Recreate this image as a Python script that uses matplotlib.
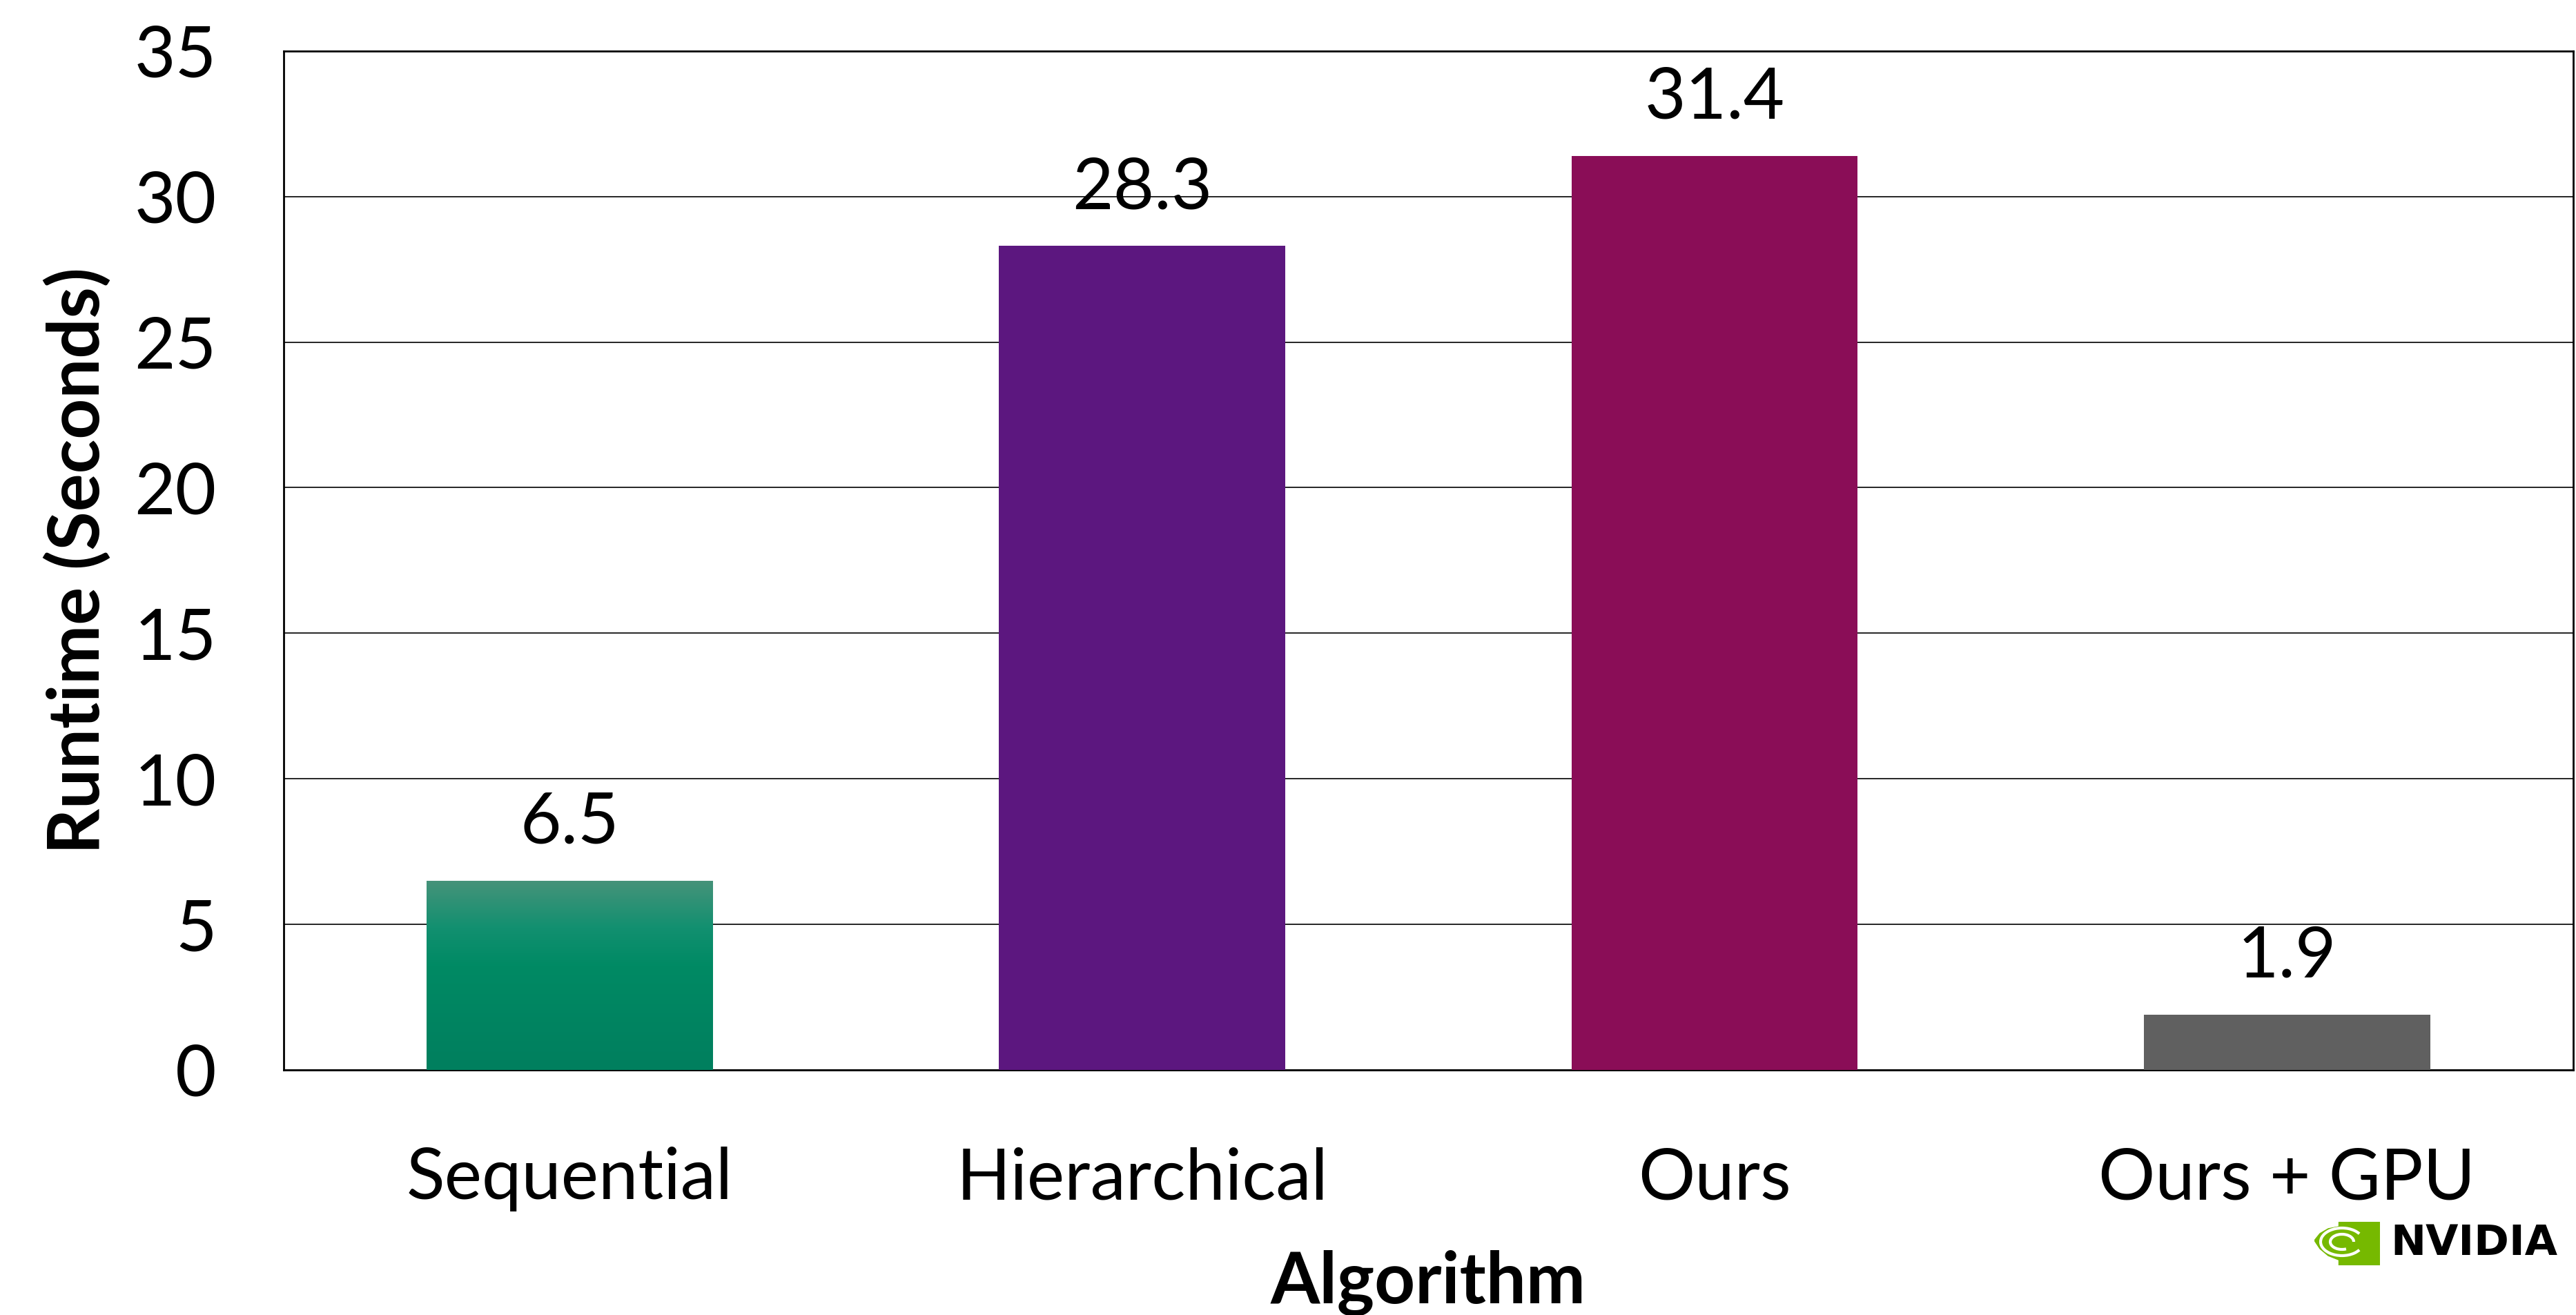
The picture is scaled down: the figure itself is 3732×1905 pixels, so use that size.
import matplotlib
matplotlib.use("Agg")
import matplotlib.pyplot as plt
import numpy as np
from matplotlib.patches import Rectangle, Polygon, Arc
from matplotlib.colors import LinearSegmentedColormap

plt.rcParams['font.family'] = ['Lato', 'DejaVu Sans']

categories = ["Sequential", "Hierarchical", "Ours", "Ours + GPU"]
runtimes = [6.5, 28.3, 31.4, 1.9]
bar_colors = ["#008a64", "#5c177f", "#8a0d57", "#606060"]
y_ticks = [0, 5, 10, 15, 20, 25, 30, 35]

fig = plt.figure(figsize=(37.32, 19.05), dpi=100)
ax = fig.add_axes([0.1101, 0.1864, 0.8888, 0.7748])

x = np.arange(len(categories))
bars = ax.bar(x, runtimes, width=0.5, color=bar_colors, zorder=3)

# gradient on the first bar
grad = LinearSegmentedColormap.from_list(
    "seq", [(0.0, "#007f5e"), (0.55, "#008a64"), (0.75, "#129070"), (1.0, "#46937a")])
b0 = bars[0]
img = ax.imshow(np.linspace(0, 1, 256).reshape(-1, 1), cmap=grad, aspect="auto",
                origin="lower",
                extent=[b0.get_x(), b0.get_x() + b0.get_width(), 0, b0.get_height()],
                zorder=4)
img.set_clip_path(b0)

for b, v in zip(bars, runtimes):
    ax.annotate(f"{v}", (b.get_x() + b.get_width() / 2, v), xytext=(0, 26),
                textcoords="offset points", ha="center", va="bottom", fontsize=74)

ax.set_xlim(-0.5, 3.5)
ax.set_ylim(0, 35)
ax.set_yticks(y_ticks)
ax.set_xticks(x)
ax.set_xticklabels(categories)
ax.tick_params(axis="both", length=0, labelsize=74)
ax.tick_params(axis="y", pad=70)
ax.tick_params(axis="x", pad=80)
ax.yaxis.grid(True, color="#000000", linewidth=1.2, zorder=0)
ax.set_axisbelow(True)
for s in ax.spines.values():
    s.set_linewidth(2.0)
    s.set_color("black")

ax.set_ylabel("Runtime (Seconds)", fontsize=74, fontweight="bold", labelpad=24)
ax.set_xlabel("Algorithm", fontsize=74, fontweight="bold", labelpad=40)

# NVIDIA logo, bottom right
lx0, ly0 = 3353 / 3732, 1 - 1833 / 1905
lw, lh = 95 / 3732, 63 / 1905
la = fig.add_axes([lx0, ly0, lw, lh])
la.set_xlim(0, 95)
la.set_ylim(0, 63)
la.axis("off")
green = "#76b900"
la.add_patch(Rectangle((35, 0), 60, 63, color=green))
la.add_patch(Polygon([(0, 36), (8, 46), (20, 53), (35, 56), (35, 8), (20, 14), (8, 24)],
                     closed=True, color=green))
la.add_patch(Arc((40, 34), 62, 40, theta1=25, theta2=335, color="white", lw=3))
la.add_patch(Arc((40, 34), 34, 22, theta1=0, theta2=300, color="white", lw=3))
la.add_patch(Rectangle((35, 0), 2, 63, color="white", alpha=0.0))
fig.text(3463 / 3732, 1 - 1802 / 1905, "NVIDIA", fontsize=44, fontweight="black",
         family="DejaVu Sans", ha="left", va="center", color="black")

fig.savefig("out.png", dpi=100)
